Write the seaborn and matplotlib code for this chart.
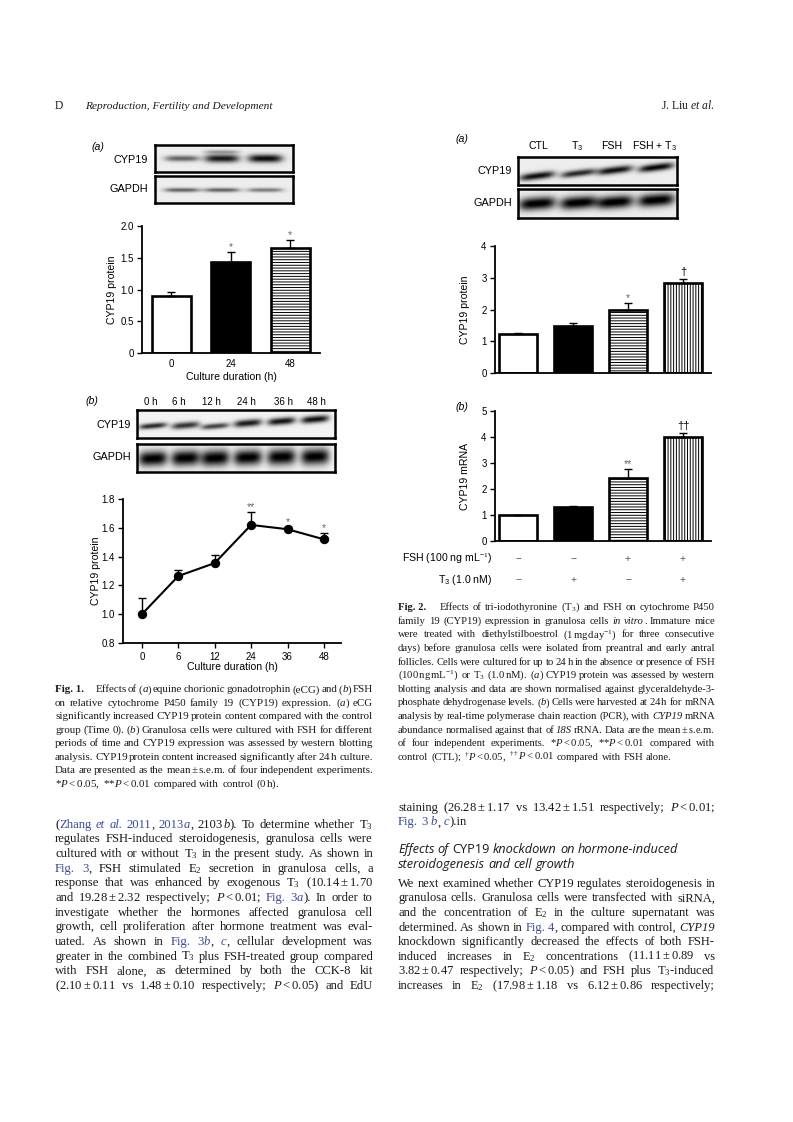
import numpy as np
import pandas as pd
import matplotlib
matplotlib.use('Agg')
import matplotlib.pyplot as plt
import seaborn as sns

W, H = 793, 1122
INK = '#1a1a1a'
BLUE = '#3b4a9a'

sns.set_theme(style='ticks')
plt.rcParams['font.family'] = ['Liberation Sans', 'DejaVu Sans']
plt.rcParams.update({
    'mathtext.fontset': 'custom',
    'mathtext.rm': 'Liberation Serif',
    'mathtext.it': 'Liberation Serif:italic',
    'mathtext.bf': 'Liberation Serif:bold',
    'mathtext.sf': 'Liberation Sans',
    'hatch.linewidth': 0.7,
    'axes.linewidth': 1.3,
    'axes.edgecolor': 'black',
    'axes.labelcolor': 'black',
    'text.color': 'black',
    'xtick.color': 'black', 'ytick.color': 'black',
    'xtick.major.width': 1.0, 'ytick.major.width': 1.0,
    'xtick.major.size': 3.5, 'ytick.major.size': 3.5,
    'xtick.major.pad': 3, 'ytick.major.pad': 2.5,
    'xtick.labelsize': 7, 'ytick.labelsize': 7,
    'axes.labelsize': 7.6,
})

# ---- data: Fig. 1(a) eCG, bar chart
f1a_groups = ['0', '24', '48']
f1a_mean = [0.89, 1.43, 1.65]
f1a_sem = [0.07, 0.16, 0.13]
f1a_sig = ['', '*', '*']
f1a_yticks = [0, 0.5, 1.0, 1.5, 2.0]
f1a_yticklabels = ['0', '0.5', '1.0', '1.5', '2.0']

# ---- data: Fig. 1(b) FSH time course
f1b_hours = ['0', '6', '12', '24', '36', '48']
f1b_mean = [1.00, 1.265, 1.355, 1.62, 1.59, 1.52]
f1b_sem = [0.11, 0.04, 0.055, 0.09, 0.015, 0.045]
f1b_sig = ['', '', '', '**', '*', '*']
f1b_lanes = ['0 h', '6 h', '12 h', '24 h', '36 h', '48 h']
f1b_yticks = [0.8, 1.0, 1.2, 1.4, 1.6, 1.8]
f1b_yticklabels = ['0.8', '1.0', '1.2', '1.4', '1.6', '1.8']

# ---- data: Fig. 2 T3 / FSH
f2_groups = ['CTL', 'T$_\\mathsf{3}$', 'FSH', 'FSH + T$_\\mathsf{3}$']
f2a_mean = [1.22, 1.49, 1.99, 2.82]
f2a_sem = [0.05, 0.10, 0.20, 0.13]
f2a_sig = ['', '', '*', '†']
f2a_yticks = [0, 1, 2, 3, 4]
f2b_mean = [1.00, 1.31, 2.41, 4.00]
f2b_sem = [0.00, 0.03, 0.37, 0.16]
f2b_sig = ['', '', '**', '††']
f2b_yticks = [0, 1, 2, 3, 4, 5]
f2b_fsh = ['−', '−', '+', '+']
f2b_t3 = ['−', '+', '−', '+']

# ---- western blot band densities (per lane)
b1a_cyp = [0.55, 0.85, 0.9]
b1a_cyp_upper = [0.0, 0.3, 0.0]
b1a_gapdh = [0.55, 0.55, 0.45]
b1b_cyp = [0.8, 0.75, 0.7, 0.85, 0.88, 0.9]
b1b_gapdh = [0.97, 0.97, 0.97, 0.97, 0.97, 0.97]
b2a_cyp = [0.88, 0.78, 0.88, 0.92]
b2a_gapdh = [0.97, 0.97, 0.97, 0.97]

# ---- page text  (@ blue, # bold, % italic, | upright, ~ wide gap after word)
fig1_caption = [
    '#Fig.\u00a01.#~ Effects of (%a%) equine chorionic gonadotrophin (eCG) and (%b%) FSH',
    'on relative cytochrome P450 family 19 (CYP19) expression. (%a%) eCG',
    'significantly increased CYP19 protein content compared with the control',
    'group (Time 0). (%b%) Granulosa cells were cultured with FSH for different',
    'periods of time and CYP19 expression was assessed by western blotting',
    'analysis. CYP19 protein content increased significantly after 24$\\,$h culture.',
    'Data are presented as the mean$\\,$±$\\,$s.e.m. of four independent experiments.',
    '*$P<0.05$, **$P<0.01$ compared with control (0$\\,$h).',
]
fig2_caption = [
    '#Fig.\u00a02.#~ Effects of tri-iodothyronine (T$_3$) and FSH on cytochrome P450',
    'family 19 (CYP19) expression in granulosa cells %in% %vitro%. Immature mice',
    'were treated with diethylstilboestrol (1$\\,$mg$\\,$day$^{-1}$) for three consecutive',
    'days) before granulosa cells were isolated from preantral and early antral',
    'follicles. Cells were cultured for up to 24 h in the absence or presence of FSH',
    '(100$\\,$ng$\\,$mL$^{-1}$) or T$_3$ (1.0$\\,$nM). (%a%) CYP19 protein was assessed by western',
    'blotting analysis and data are shown normalised against glyceraldehyde-3-',
    'phosphate dehydrogenase levels. (%b%) Cells were harvested at 24$\\,$h for mRNA',
    'analysis by real-time polymerase chain reaction (PCR), with %CYP19% mRNA',
    'abundance normalised against that of %18S% rRNA. Data are the mean$\\,$±$\\,$s.e.m.',
    'of four independent experiments. *$P<0.05$, **$P<0.01$ compared with',
    'control (CTL); $^{\\dagger}P<0.05$, $^{\\dagger\\dagger}P<0.01$ compared with FSH alone.',
]
body_left = [
    '(@Zhang@ @%et%@ @%al.%@ @2011@, @2013%a%@, 2103%b%). To determine whether T$_3$',
    'regulates FSH-induced steroidogenesis, granulosa cells were',
    'cultured with or without T$_3$ in the present study. As shown in',
    '@Fig.@ @3@, FSH stimulated E$_2$ secretion in granulosa cells, a',
    'response that was enhanced by exogenous T$_3$ (10.14$\\:$±$\\:$1.70',
    'and 19.28$\\:$±$\\:$2.32 respectively; $P<0.01$; @Fig.@ @3%a%@). In order to',
    'investigate whether the hormones affected granulosa cell',
    'growth, cell proliferation after hormone treatment was eval-',
    'uated. As shown in @Fig.@ @3%b%@, @%c%@, cellular development was',
    'greater in the combined T$_3$ plus FSH-treated group compared',
    'with FSH alone, as determined by both the CCK-8 kit',
    '(2.10$\\:$±$\\:$0.11 vs 1.48$\\:$±$\\:$0.10 respectively; $P<0.05$) and EdU',
]
body_right_top = [
    'staining (26.28$\\:$±$\\:$1.17 vs 13.42$\\:$±$\\:$1.51 respectively; $P<0.01$;',
    '@Fig.@ @3@ @%b%@, @%c%@).in',
]
heading = [
    'Effects of |CYP19| knockdown on hormone-induced',
    'steroidogenesis and cell growth',
]
body_right = [
    'We next examined whether CYP19 regulates steroidogenesis in',
    'granulosa cells. Granulosa cells were transfected with siRNA,',
    'and the concentration of E$_2$ in the culture supernatant was',
    'determined. As shown in @Fig.@ @4@, compared with control, %CYP19%',
    'knockdown significantly decreased the effects of both FSH-',
    'induced increases in E$_2$ concentrations (11.11$\\:$±$\\:$0.89 vs',
    '3.82$\\:$±$\\:$0.47 respectively; $P<0.05$) and FSH plus T$_3$-induced',
    'increases in E$_2$ (17.98$\\:$±$\\:$1.18 vs 6.12$\\:$±$\\:$0.86 respectively;',
]

fig = plt.figure(figsize=(W / 100, H / 100), dpi=100)
R = fig.canvas.get_renderer()


def rect(x0, y0, x1, y1):
    return [x0 / W, 1 - y1 / H, (x1 - x0) / W, (y1 - y0) / H]


def ftext(x, y, s, **kw):
    return fig.text(x / W, 1 - y / H, s, **kw)


def parse(word):
    segs, buf = [], ''
    st = {'@': False, '#': False, '%': False, '|': False}
    for ch in word:
        if ch in st:
            if buf:
                segs.append((buf, dict(st)))
            buf = ''
            st[ch] = not st[ch]
        else:
            buf += ch
    if buf:
        segs.append((buf, dict(st)))
    return segs


def put_line(line, x0, x1, yc, size, justify=True, family='Liberation Serif',
             style='normal'):
    fpx = size * 100 / 72
    base = yc + 0.3 * fpx
    words = []
    for w in line.split(' '):
        extra = 0
        if w.endswith('~'):
            w = w[:-1]
            extra = 0.9 * fpx
        arts = []
        for s, st in parse(w):
            if st['|']:
                sty = 'normal'
            elif st['%']:
                sty = 'italic'
            else:
                sty = style
            t = ftext(0, base, s, fontsize=size, family=family, style=sty,
                      weight='bold' if st['#'] else 'normal',
                      color=BLUE if st['@'] else INK, va='baseline', ha='left')
            arts.append((t, t.get_window_extent(R).width))
        words.append((arts, extra))
    total = sum(wd for arts, _ in words for _, wd in arts) + sum(e for _, e in words)
    n = len(words)
    if justify and n > 1:
        gap = max((x1 - x0 - total) / (n - 1), 1.2)
    else:
        gap = 0.26 * fpx
    x = x0
    for arts, extra in words:
        for t, wd in arts:
            t.set_x(x / W)
            x += wd
        x += gap + extra


def paragraph(lines, x0, x1, y0, dy, size, last_left=True, **kw):
    for i, line in enumerate(lines):
        just = not (last_left and i == len(lines) - 1)
        put_line(line, x0, x1, y0 + i * dy, size, justify=just, **kw)


def blot(box, centers, hw, bg, bands, tilt=0.0):
    ax = fig.add_axes(rect(*box))
    n = len(centers)
    ny, nx = 70, 90 * n
    v, u = np.mgrid[0:ny, 0:nx].astype(float)
    v /= ny - 1
    u /= nx - 1
    img = np.full((ny, nx), bg)
    for level, yc, thick in bands:
        for cx, lv, y0, th in zip(centers, level, yc, thick):
            hprof = np.exp(-np.abs((u - cx) / hw) ** 4)
            vprof = np.exp(-((v - (y0 - tilt * (u - cx))) / th) ** 2)
            img -= lv * hprof * vprof
    ax.imshow(np.clip(img, 0, 1), cmap='gray', vmin=0, vmax=1, aspect='auto',
              extent=(0, 1, 1, 0), interpolation='bilinear')
    ax.set_xticks([])
    ax.set_yticks([])
    for s in ax.spines.values():
        s.set_visible(True)
        s.set_linewidth(1.8)
        s.set_color('black')
    return ax


def bar_panel(box, groups, mean, sem, sig, faces, hatches, ymax, yticks,
              yticklabels, xlim, width, ylabel, ylab_x, show_x):
    ax = fig.add_axes(rect(*box))
    df = pd.DataFrame({'group': groups, 'value': mean})
    sns.barplot(data=df, x='group', y='value', ax=ax, width=width, color='white',
                edgecolor='black', linewidth=1.9, errorbar=None)
    for p, fc, ht in zip(ax.patches, faces, hatches):
        p.set_facecolor(fc)
        p.set_hatch(ht)
    pos = np.arange(len(mean))
    ax.errorbar(pos, mean, yerr=[np.zeros(len(sem)), sem], fmt='none',
                ecolor='black', elinewidth=1.0, capsize=3.2, capthick=1.0)
    for i, (m, s, t) in enumerate(zip(mean, sem, sig)):
        if t:
            dark = '†' in t
            ax.annotate(t, (i, m + s), xytext=(0, 1.5 if dark else 0),
                        textcoords='offset points', ha='center', va='bottom',
                        fontsize=8 if dark else 7.5,
                        color='black' if dark else '#666666')
    ax.set_xlim(*xlim)
    ax.set_ylim(0, ymax)
    ax.set_yticks(yticks)
    ax.set_yticklabels(yticklabels)
    ax.set_ylabel(ylabel)
    ax.yaxis.set_label_coords(ylab_x, 0.5)
    if show_x:
        ax.tick_params(axis='x', length=0, pad=4)
    else:
        ax.set_xticks([])
    ax.set_xlabel('')
    sns.despine(ax=ax)
    return ax


# ---------------- header
ftext(55, 109, 'D', fontsize=8.4, family='Liberation Serif', color=INK, va='baseline')
ftext(85, 109, 'Reproduction, Fertility and Development', fontsize=8.2,
      family='Liberation Serif', style='italic', color=INK, va='baseline')
ftext(715, 109, 'J. Liu $\\mathit{et\\ al.}$', fontsize=8.4, family='Liberation Serif',
      color=INK, va='baseline', ha='right')

# ---------------- Fig. 1(a)
ftext(92, 147, '(a)', fontsize=7.6, style='italic', va='center')
blot((155, 145, 293, 172), [0.196, 0.486, 0.80], 0.125, 0.93,
     [(b1a_cyp, [0.5, 0.5, 0.5], [0.11, 0.15, 0.15]),
      (b1a_cyp_upper, [0.25, 0.25, 0.25], [0.07, 0.07, 0.07])])
blot((155, 176, 293, 203), [0.196, 0.486, 0.80], 0.13, 0.93,
     [(b1a_gapdh, [0.52, 0.52, 0.52], [0.08, 0.08, 0.08])])
ftext(148, 160, 'CYP19', fontsize=7.8, ha='right', va='center')
ftext(148, 189, 'GAPDH', fontsize=7.8, ha='right', va='center')

ax1a = bar_panel((142, 226, 320, 353), f1a_groups, f1a_mean, f1a_sem, f1a_sig,
                 ['white', 'black', 'white'], ['', '', '------'], 2.0,
                 f1a_yticks, f1a_yticklabels, (-0.49, 2.5), 0.66,
                 'CYP19 protein', -0.14, True)
ax1a.set_xlabel('Culture duration (h)')
ax1a.xaxis.set_label_coords(0.5, -0.15)

# ---------------- Fig. 1(b)
ftext(86, 401, '(b)', fontsize=7.6, style='italic', va='center')
for lab, x in zip(f1b_lanes, [151, 179, 211, 246, 283, 316]):
    ftext(x, 402, lab, fontsize=7, ha='center', va='center')
lanes_b = [0.08, 0.245, 0.395, 0.56, 0.73, 0.90]
blot((137, 410, 335, 438), lanes_b, 0.07, 0.95,
     [(b1b_cyp, [0.57, 0.55, 0.58, 0.47, 0.40, 0.33], [0.1, 0.12, 0.1, 0.13, 0.13, 0.13])],
     tilt=0.6)
blot((137, 444, 335, 472), lanes_b, 0.072, 0.95,
     [(b1b_gapdh, [0.52, 0.5, 0.5, 0.48, 0.46, 0.45], [0.27, 0.28, 0.29, 0.28, 0.29, 0.29])],
     tilt=0.3)
ftext(131, 425, 'CYP19', fontsize=7.8, ha='right', va='center')
ftext(131, 457, 'GAPDH', fontsize=7.8, ha='right', va='center')

ax1b = fig.add_axes(rect(123, 499, 341, 643))
xpos = np.arange(len(f1b_mean))
ax1b.errorbar(xpos, f1b_mean, yerr=[np.zeros(len(f1b_sem)), f1b_sem], fmt='none',
              ecolor='black', elinewidth=1.0, capsize=3.2, capthick=1.0, zorder=1)
sns.lineplot(x=xpos, y=f1b_mean, ax=ax1b, color='black', linewidth=1.5,
             marker='o', markersize=6, markeredgecolor='black', zorder=3)
for i, (m, s, t) in enumerate(zip(f1b_mean, f1b_sem, f1b_sig)):
    if t:
        ax1b.annotate(t, (i, m + s), xytext=(0, 0), textcoords='offset points',
                      ha='center', va='bottom', fontsize=7.5, color='#666666')
ax1b.set_xlim(-0.52, 5.47)
ax1b.set_ylim(0.8, 1.8)
ax1b.set_xticks(xpos)
ax1b.set_xticklabels(f1b_hours)
ax1b.set_yticks(f1b_yticks)
ax1b.set_yticklabels(f1b_yticklabels)
ax1b.set_ylabel('CYP19 protein')
ax1b.yaxis.set_label_coords(-0.10, 0.5)
ax1b.set_xlabel('Culture duration (h)')
ax1b.xaxis.set_label_coords(0.5, -0.13)
sns.despine(ax=ax1b)

# ---------------- Fig. 2(a)
ftext(455, 139, '(a)', fontsize=7.6, style='italic', va='center')
for lab, x in zip(f2_groups, [538, 577, 612, 655]):
    ftext(x, 146, lab, fontsize=7.6, ha='center', va='center')
lanes_2 = [0.12, 0.38, 0.61, 0.87]
blot((518, 157, 677, 185), lanes_2, 0.11, 0.93,
     [(b2a_cyp, [0.68, 0.58, 0.47, 0.37], [0.13, 0.12, 0.13, 0.13])], tilt=0.7)
blot((518, 189, 677, 218), lanes_2, 0.115, 0.93,
     [(b2a_gapdh, [0.5, 0.47, 0.45, 0.38], [0.22, 0.22, 0.22, 0.22])], tilt=0.4)
ftext(512, 171, 'CYP19', fontsize=7.8, ha='right', va='center')
ftext(512, 203, 'GAPDH', fontsize=7.8, ha='right', va='center')

faces2 = ['white', 'black', 'white', 'white']
hatch2 = ['', '', '------', '||||||']
bar_panel((495, 246, 711, 373), f2_groups, f2a_mean, f2a_sem, f2a_sig, faces2,
          hatch2, 4, f2a_yticks, [str(t) for t in f2a_yticks], (-0.42, 3.51), 0.68,
          'CYP19 protein', -0.116, False)

# ---------------- Fig. 2(b)
ftext(455, 407, '(b)', fontsize=7.6, style='italic', va='center')
ax2b = bar_panel((495, 411, 711, 541), f2_groups, f2b_mean, f2b_sem, f2b_sig, faces2,
                 hatch2, 5, f2b_yticks, [str(t) for t in f2b_yticks], (-0.42, 3.51),
                 0.68, 'CYP19 mRNA', -0.116, False)
tr = ax2b.get_xaxis_transform()
for i, (a, b) in enumerate(zip(f2b_fsh, f2b_t3)):
    ax2b.text(i, -0.138, a, transform=tr, ha='center', va='center', fontsize=7.5,
              color='#555555')
    ax2b.text(i, -0.30, b, transform=tr, ha='center', va='center', fontsize=7.5,
              color='#555555')
ax2b.text(-0.014, -0.138, 'FSH (100 ng mL$^{-1}$)', transform=ax2b.transAxes,
          ha='right', va='center', fontsize=7.6)
ax2b.text(-0.014, -0.30, 'T$_\\mathsf{3}$ (1.0 nM)', transform=ax2b.transAxes,
          ha='right', va='center', fontsize=7.6)

# ---------------- captions and body text
paragraph(fig1_caption, 55, 373, 689, 13.5, 7.9)
paragraph(fig2_caption, 398, 715, 607, 13.6, 7.65)
paragraph(body_left, 55, 373, 824, 14.65, 9.1, last_left=False)
paragraph(body_right_top, 398, 715, 807, 14.6, 9.1)
for i, line in enumerate(heading):
    put_line(line, 398, 715, 849 + i * 15, 9.2, justify=False,
             family='Open Sans', style='italic')
paragraph(body_right, 398, 715, 883, 14.6, 9.0, last_left=False)

fig.savefig('out.png', dpi=100)
